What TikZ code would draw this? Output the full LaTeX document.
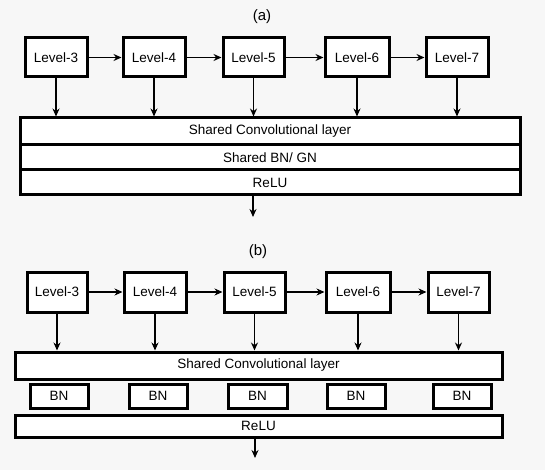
\documentclass[tikz,border=0pt]{standalone}
\usepackage{fontspec}
\setmainfont{Liberation Sans}
\usetikzlibrary{arrows.meta}
\begin{document}
\begin{tikzpicture}[x=1pt, y=-1pt,
    lvl/.style={draw, line width=3pt, fill=white, minimum height=39pt, inner sep=0pt, font=\fontsize{13.5}{15}\selectfont},
    bar/.style={draw, line width=3pt, fill=white, minimum width=500pt, inner sep=0pt, font=\fontsize{13.5}{15}\selectfont},
    arr/.style={-{Stealth[length=8pt, width=7pt]}, line width=1.6pt}]
    \fill[black!3] (0,0) rectangle (545,470);

    % (a) shared normalisation
    \node[font=\fontsize{15}{17}\selectfont] (capa) at (262,17) {(a)};
    \node[lvl, minimum width=62pt] (a3) at (56,57.5) {Level-3};
    \node[lvl, minimum width=62pt] (a4) at (154,57.5) {Level-4};
    \node[lvl, minimum width=61pt] (a5) at (253.5,57.5) {Level-5};
    \node[lvl, minimum width=64pt] (a6) at (357,57.5) {Level-6};
    \node[lvl, minimum width=62pt] (a7) at (457,57.5) {Level-7};

    \node[bar, minimum height=27pt] (aconv) at (270,131.5) {Shared Convolutional layer};
    \node[bar, minimum height=25pt] (anorm) at (270,157.5) {Shared BN/ GN};
    \node[bar, minimum height=25pt] (arelu) at (270,182.5) {ReLU};
    \coordinate (aout) at (253,217);

    \draw[arr] (a3) -- (a4);
    \draw[arr] (a4) -- (a5);
    \draw[arr] (a5) -- (a6);
    \draw[arr] (a6) -- (a7);
    \foreach \n in {a3,a4,a5,a6,a7}
        \draw[arr] (\n.south) -- (\n.south |- aconv.north);
    \draw[arr] (arelu.south -| aout) -- (aout);

    % (b) separate BN per level
    \node[font=\fontsize{15}{17}\selectfont] (capb) at (258,252) {(b)};
    \node[lvl, minimum width=60pt, minimum height=40pt] (b3) at (57,292) {Level-3};
    \node[lvl, minimum width=62pt, minimum height=40pt] (b4) at (155,292) {Level-4};
    \node[lvl, minimum width=61pt, minimum height=40pt] (b5) at (254.5,292) {Level-5};
    \node[lvl, minimum width=64pt, minimum height=40pt] (b6) at (358,292) {Level-6};
    \node[lvl, minimum width=61pt, minimum height=40pt] (b7) at (458.5,292) {Level-7};

    \node[bar, minimum width=487pt, minimum height=27pt] (bconv) at (258.5,365.5) {Shared Convolutional layer};
    \node[lvl, minimum width=58pt, minimum height=24pt] (bn3) at (59,396) {BN};
    \node[lvl, minimum width=58pt, minimum height=24pt] (bn4) at (158,396) {BN};
    \node[lvl, minimum width=59pt, minimum height=24pt] (bn5) at (257.5,396) {BN};
    \node[lvl, minimum width=58pt, minimum height=24pt] (bn6) at (356,396) {BN};
    \node[lvl, minimum width=58pt, minimum height=24pt] (bn7) at (462,396) {BN};
    \node[bar, minimum width=487pt, minimum height=22pt] (brelu) at (258.5,426) {ReLU};
    \coordinate (bout) at (255,458);

    \draw[arr] (b3) -- (b4);
    \draw[arr] (b4) -- (b5);
    \draw[arr] (b5) -- (b6);
    \draw[arr] (b6) -- (b7);
    \foreach \n in {b3,b4,b5,b6,b7}
        \draw[arr] (\n.south) -- (\n.south |- bconv.north);
    \draw[arr] (brelu.south -| bout) -- (bout);
\end{tikzpicture}
\end{document}
